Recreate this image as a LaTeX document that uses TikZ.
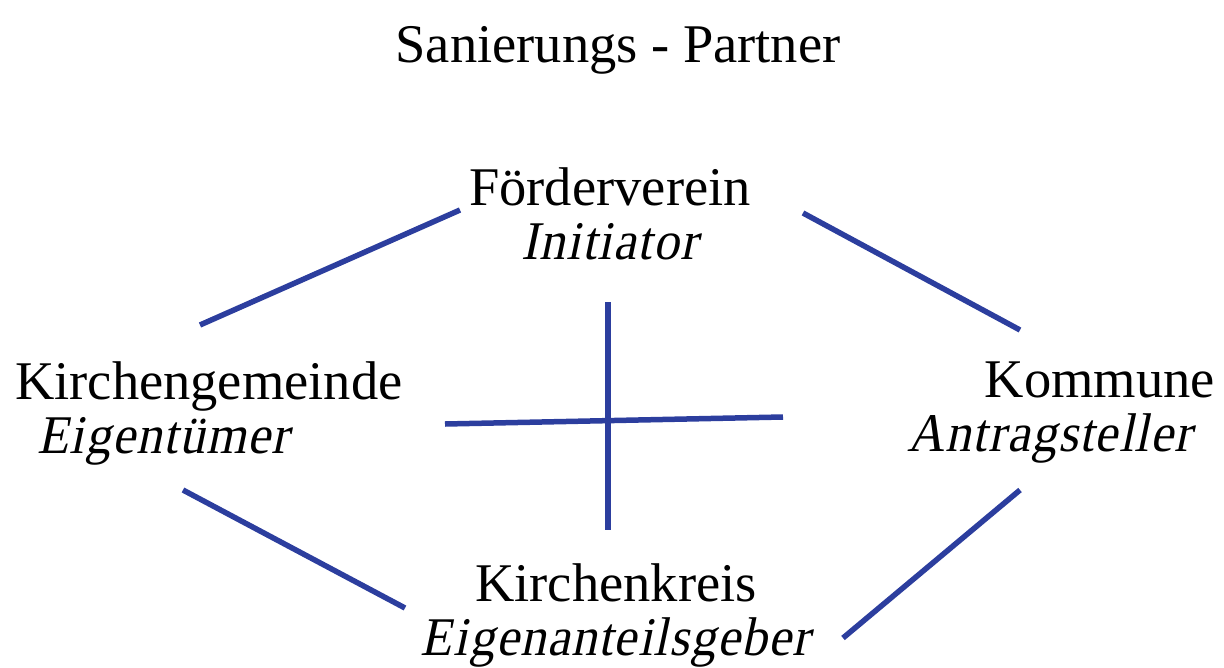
\documentclass[tikz,border=0pt]{standalone}
\usepackage{fontspec}
\setmainfont{Liberation Serif}[ItalicFont={Liberation Serif},ItalicFeatures={FakeSlant=0.21,FakeStretch=0.94,LetterSpace=2.5}]
\definecolor{linkblue}{HTML}{2C3E9E}
\begin{document}
\begin{tikzpicture}[x=1pt,y=-1pt,
  lbl/.style={inner sep=0pt,font=\fontsize{54.5}{54}\selectfont},
  link/.style={draw=linkblue,line width=5.5pt}]
\useasboundingbox (0,0) rectangle (1224,667);
\node[lbl,anchor=base] (title) at (618,62) {Sanierungs - Partner};
\node[lbl,align=center] (foerder) at (610,214) {Förderverein\\\textit{Initiator}};
\node[lbl,align=left,anchor=west] (gemeinde) at (15,413) {Kirchengemeinde\\\hspace*{22pt}\textit{Eigentümer}};
\node[lbl,align=right,anchor=east] (kommune) at (1215,413) {Kommune\\\textit{Antragsteller}\hspace*{22pt}};
\node[lbl,align=center] (kreis) at (616,615) {Kirchenkreis\\\textit{Eigenanteilsgeber}};
\coordinate (a1) at (200,325); \coordinate (a2) at (460,210);
\coordinate (b1) at (803,213); \coordinate (b2) at (1020,330);
\coordinate (c1) at (608,302); \coordinate (c2) at (608,530);
\coordinate (d1) at (445,424); \coordinate (d2) at (783,417);
\coordinate (e1) at (183,490); \coordinate (e2) at (405,608);
\coordinate (f1) at (843,638); \coordinate (f2) at (1020,490);
\draw[link] (a1) -- (a2);
\draw[link] (b1) -- (b2);
\draw[link] (c1) -- (c2);
\draw[link] (d1) -- (d2);
\draw[link] (e1) -- (e2);
\draw[link] (f1) -- (f2);
\end{tikzpicture}
\end{document}
